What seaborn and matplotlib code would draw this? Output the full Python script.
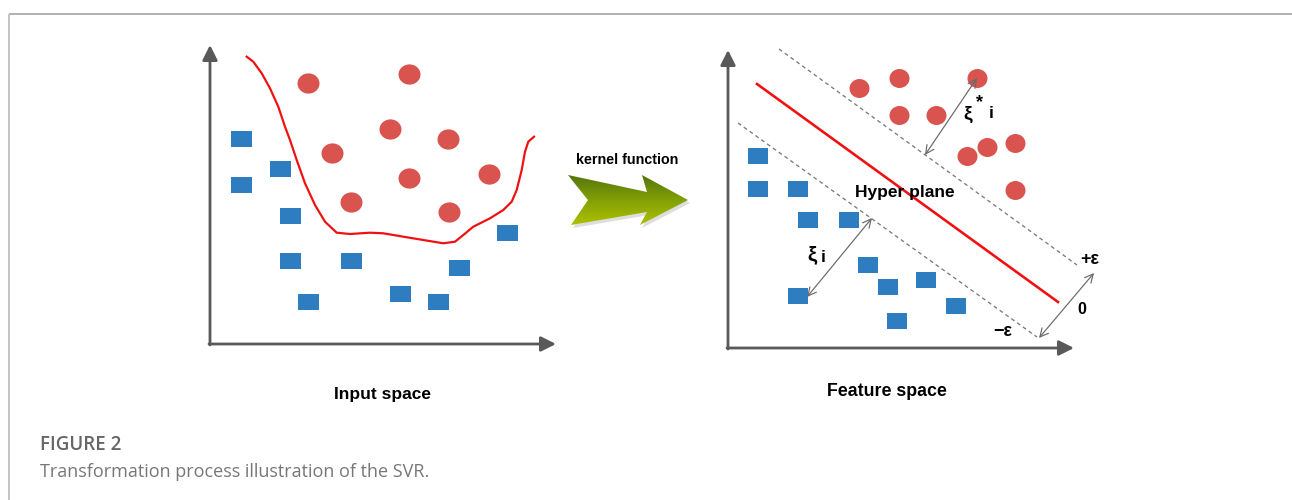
import numpy as np
import matplotlib
matplotlib.use("Agg")
import matplotlib.pyplot as plt
from matplotlib.path import Path
from matplotlib.patches import Polygon
import seaborn as sns

# --- left panel: input space (pixel coords of the original figure) ---
in_circle_x = [308, 409, 390, 448, 332, 409, 489, 351, 449]
in_circle_y = [83, 74, 129, 139, 153, 178, 174, 202, 212]
in_square_x = [241, 280, 241, 290, 290, 351, 459, 507, 308, 400, 438]
in_square_y = [139, 169, 185, 216, 261, 261, 268, 233, 302, 294, 302]
boundary_x = [246.7, 253.3, 261.7, 270, 278.3, 285, 290, 296.7, 305, 315, 325,
              336.7, 350, 370, 383.3, 403.3, 423.3, 443.3, 455, 463.3, 473.3,
              490, 503.3, 511.7, 516.7, 521.7, 525, 528.3, 534]
boundary_y = [56.7, 61.7, 73.3, 88.3, 106.7, 126.7, 140, 160, 183.3, 205, 221.7,
              232.7, 234, 232.7, 233.3, 236.7, 240, 243.3, 241.7, 235, 226.7,
              218.3, 210, 201.7, 190, 170, 151.7, 141.7, 136.7]

# --- right panel: feature space ---
fs_circle_x = [859, 899, 977, 899, 936, 967, 987, 1015, 1015]
fs_circle_y = [88, 78, 78, 115, 115, 156, 147, 143, 190]
fs_square_x = [758, 758, 798, 808, 849, 868, 888, 926, 956, 897, 798]
fs_square_y = [156, 189, 189, 220, 220, 265, 287, 280, 306, 321, 296]
hyperplane_x = [757, 1058]
hyperplane_y = [84, 302]
upper_margin_x = [779, 1077]
upper_margin_y = [49, 265]
lower_margin_x = [738, 1037]
lower_margin_y = [123, 337]

RED = "#d9534f"
BLUE = "#2e7dc0"
AXIS = "#595959"
PX = 0.72  # points per pixel at dpi=100


def ellipse_marker(ratio):
    circ = Path.unit_circle()
    return Path(circ.vertices * np.array([1.0, ratio]), circ.codes)


def rect_marker(ratio):
    return Path([(-1, -ratio), (1, -ratio), (1, ratio), (-1, ratio), (-1, -ratio)],
                closed=True)


fig = plt.figure(figsize=(12.92, 5.0), dpi=100)
ax = fig.add_axes([0, 0, 1, 1])
ax.set_xlim(0, 1292)
ax.set_ylim(500, 0)
ax.axis("off")

# frame of the figure box
ax.plot([8.5, 1292], [13.5, 13.5], color="#b0b0b0", lw=1.4, solid_capstyle="butt")
ax.plot([8.5, 8.5], [13.5, 500], color="#c4c4c4", lw=1.4, solid_capstyle="butt")


def draw_axes(x0, y0, xtip, ytip):
    kw = dict(arrowstyle="-|>,head_length=0.9,head_width=0.45", color=AXIS,
              lw=2.8 * PX, mutation_scale=10, shrinkA=0, shrinkB=0)
    ax.annotate("", xy=(x0, ytip), xytext=(x0, y0 + 1), arrowprops=kw)
    ax.annotate("", xy=(xtip, y0), xytext=(x0 - 1, y0), arrowprops=kw)


draw_axes(210, 344, 556, 45)
draw_axes(728, 348, 1074, 50)

# input space
sns.lineplot(x=boundary_x, y=boundary_y, sort=False, estimator=None, ax=ax,
             color="#f01010", lw=2.2 * PX, zorder=3)
sns.scatterplot(x=in_circle_x, y=in_circle_y, ax=ax, marker=ellipse_marker(0.92),
                s=(22 * PX) ** 2, color=RED, linewidth=0, zorder=4)
sns.scatterplot(x=in_square_x, y=in_square_y, ax=ax, marker=rect_marker(0.76),
                s=(21 * PX) ** 2, color=BLUE, linewidth=0, zorder=4)

# feature space
for mx, my in [(upper_margin_x, upper_margin_y), (lower_margin_x, lower_margin_y)]:
    sns.lineplot(x=mx, y=my, sort=False, estimator=None, ax=ax, color="#7a7a7a",
                 lw=1.3 * PX, linestyle=(0, (3, 2.5)), zorder=2)
sns.lineplot(x=hyperplane_x, y=hyperplane_y, sort=False, estimator=None, ax=ax,
             color="#f01010", lw=2.6 * PX, zorder=3)
sns.scatterplot(x=fs_circle_x, y=fs_circle_y, ax=ax, marker=ellipse_marker(0.95),
                s=(20 * PX) ** 2, color=RED, linewidth=0, zorder=4)
sns.scatterplot(x=fs_square_x, y=fs_square_y, ax=ax, marker=rect_marker(0.76),
                s=(20.5 * PX) ** 2, color=BLUE, linewidth=0, zorder=4)

dkw = dict(arrowstyle="<->,head_length=0.5,head_width=0.25", color="#6a6a6a",
           lw=1.2 * PX, mutation_scale=12, shrinkA=0, shrinkB=0)
ax.annotate("", xy=(977, 78), xytext=(925, 155), arrowprops=dkw, zorder=5)
ax.annotate("", xy=(872, 218), xytext=(807, 297), arrowprops=dkw, zorder=5)
ax.annotate("", xy=(1094, 273), xytext=(1039, 338), arrowprops=dkw, zorder=5)

bold = dict(family="Liberation Sans", fontweight="bold", color="black")
ax.text(968, 114, "ξ", fontsize=14, ha="center", va="center", **bold)
ax.text(980, 103, "*", fontsize=13, ha="center", va="center", **bold)
ax.text(991, 114, "i", fontsize=12.5, ha="center", va="center", **bold)
ax.text(812, 255, "ξ", fontsize=15, ha="center", va="center", **bold)
ax.text(823, 257, "i", fontsize=12.5, ha="center", va="center", **bold)
ax.text(1090, 259, "+ε", fontsize=13, ha="center", va="center", **bold)
ax.text(1003, 331, "−ε", fontsize=13, ha="center", va="center", **bold)
ax.text(1082, 310, "0", fontsize=11.5, ha="center", va="center", **bold)
ax.text(905, 193, "Hyper plane", fontsize=12.5, ha="center", va="center", **bold)

ax.text(383, 395, "Input space", fontsize=12.5, ha="center", va="center", **bold)
ax.text(887, 391, "Feature space", fontsize=12.8, ha="center", va="center", **bold)
ax.text(627, 160, "kernel function", fontsize=10.3, ha="center", va="center", **bold)

# kernel function arrow with a green gradient
arrow_pts = [(568, 175), (647, 192), (642, 175), (688, 200), (640, 225),
             (647, 212), (571, 225), (588, 200)]
shadow = Polygon([(x + 2, y + 3) for x, y in arrow_pts], closed=True,
                 facecolor="#c8c8c8", edgecolor="none", alpha=0.6, zorder=1)
ax.add_patch(shadow)
clip = Polygon(arrow_pts, closed=True, facecolor="none", edgecolor="none", zorder=2)
ax.add_patch(clip)
grad = np.linspace(0, 1, 64).reshape(-1, 1)
cmap = matplotlib.colors.LinearSegmentedColormap.from_list(
    "kern", ["#52720c", "#82a006", "#b2c200"])
img = ax.imshow(grad, cmap=cmap, extent=(566, 690, 227, 173), origin="upper",
                aspect="auto", zorder=2)
img.set_clip_path(clip)
ax.set_xlim(0, 1292)
ax.set_ylim(500, 0)

# caption
ax.text(40, 445, "FIGURE 2", fontsize=13.5, family="Open Sans", fontweight="semibold",
        color="#666666", ha="left", va="center")
ax.text(40, 472, "Transformation process illustration of the SVR.", fontsize=13,
        family="Open Sans", color="#777777", ha="left", va="center")

fig.savefig("out.png", dpi=100)
